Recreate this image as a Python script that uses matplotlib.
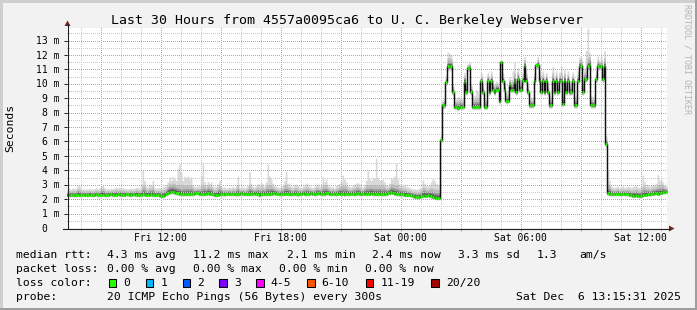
import numpy as np
import matplotlib
matplotlib.use('Agg')
import matplotlib.pyplot as plt
import matplotlib.transforms as mtransforms
from matplotlib.patches import Rectangle, Polygon
from matplotlib.lines import Line2D
from matplotlib.colors import to_rgba

# ---------------- data ----------------
title = "Last 30 Hours from 4557a0095ca6 to U. C. Berkeley Webserver"
step_minutes = 5
start_clock_hour = 7.31          # Fri 07:18 (graph start)
x_tick_clock = [12, 18, 24, 30, 36]
x_tick_labels = ["Fri 12:00", "Fri 18:00", "Sat 00:00", "Sat 06:00", "Sat 12:00"]
y_ticks = list(range(0, 14))
y_tick_labels = ["0"] + [f"{v} m" for v in range(1, 14)]

# median rtt per 5-minute step (ms), one row per hour
median = [
    2.30, 2.28, 2.31, 2.29, 2.27, 2.30, 2.32, 2.29, 2.28, 2.30, 2.31, 2.29,
    2.30, 2.32, 2.29, 2.28, 2.31, 2.33, 2.30, 2.29, 2.31, 2.32, 2.30, 2.28,
    2.31, 2.33, 2.35, 2.32, 2.30, 2.31, 2.34, 2.33, 2.31, 2.30, 2.32, 2.34,
    2.33, 2.31, 2.30, 2.33, 2.35, 2.32, 2.30, 2.28, 2.31, 2.34, 2.33, 2.31,
    2.30, 2.32, 2.33, 2.31, 2.29, 2.30, 2.32, 2.26, 2.22, 2.24, 2.28, 2.36,
    2.42, 2.50, 2.52, 2.53, 2.48, 2.44, 2.40, 2.38, 2.36, 2.34, 2.36, 2.35,
    2.37, 2.35, 2.38, 2.36, 2.40, 2.44, 2.42, 2.38, 2.36, 2.35, 2.37, 2.39,
    2.42, 2.38, 2.36, 2.34, 2.30, 2.28, 2.32, 2.35, 2.38, 2.36, 2.34, 2.37,
    2.39, 2.37, 2.35, 2.38, 2.36, 2.33, 2.35, 2.37, 2.40, 2.38, 2.36, 2.37,
    2.35, 2.37, 2.36, 2.38, 2.40, 2.37, 2.34, 2.30, 2.33, 2.36, 2.38, 2.35,
    2.37, 2.36, 2.38, 2.40, 2.42, 2.39, 2.37, 2.36, 2.38, 2.35, 2.37, 2.39,
    2.38, 2.36, 2.34, 2.36, 2.38, 2.35, 2.33, 2.36, 2.38, 2.40, 2.37, 2.35,
    2.37, 2.39, 2.41, 2.38, 2.36, 2.38, 2.40, 2.42, 2.39, 2.37, 2.38, 2.40,
    2.41, 2.38, 2.36, 2.39, 2.37, 2.35, 2.38, 2.40, 2.37, 2.36, 2.34, 2.37,
    2.38, 2.36, 2.39, 2.37, 2.35, 2.38, 2.40, 2.37, 2.36, 2.38, 2.40, 2.38,
    2.37, 2.39, 2.41, 2.38, 2.36, 2.37, 2.35, 2.38, 2.36, 2.34, 2.36, 2.38,
    2.40, 2.44, 2.48, 2.45, 2.40, 2.38, 2.36, 2.34, 2.36, 2.33, 2.31, 2.30,
    2.28, 2.30, 2.27, 2.22, 2.18, 2.15, 2.14, 2.17, 2.20, 2.24, 2.26, 2.25,
    2.27, 2.24, 2.20, 2.16, 2.12, 2.10, 2.08, 2.09, 6.1, 8.5, 8.5, 10.15,
    11.2, 11.2, 11.2, 9.45, 8.4, 8.4, 8.3, 8.4, 8.4, 8.4, 10.15, 9.4,
    11.1, 11.1, 9.4, 8.4, 8.4, 8.4, 8.4, 8.4, 10.2, 9.4, 8.4, 8.4,
    10.2, 9.4, 10.2, 9.6, 9.4, 9.6, 9.6, 8.8, 11.5, 10.2, 9.6, 8.8,
    8.8, 9.9, 9.6, 9.6, 10.15, 9.4, 10.3, 9.6, 9.6, 10.2, 11.2, 10.2,
    9.4, 8.5, 8.5, 8.5, 10.2, 11.3, 11.3, 10.2, 9.4, 10.2, 9.4, 10.2,
    9.4, 8.5, 8.5, 10.2, 9.4, 10.2, 9.4, 10.2, 10.2, 8.6, 10.2, 9.4,
    10.2, 9.4, 9.4, 10.2, 8.5, 8.5, 10.2, 11.2, 11.2, 9.4, 10.3, 10.3,
    11.2, 11.3, 8.5, 8.5, 8.5, 10.3, 11.2, 11.2, 11.2, 10.3, 11.2, 5.8,
    2.40, 2.38, 2.36, 2.35, 2.37, 2.36, 2.38, 2.35, 2.34, 2.36, 2.37, 2.35,
    2.33, 2.31, 2.28, 2.25, 2.24, 2.26, 2.23, 2.22, 2.25, 2.28, 2.30, 2.32,
    2.34, 2.33, 2.35, 2.38, 2.40, 2.42, 2.38, 2.41, 2.44, 2.47, 2.49, 2.50,
]

# highest ping per step (top of the smoke)
smoke_hi = [
    2.70, 2.75, 2.68, 2.80, 2.72, 2.78, 2.95, 2.90, 2.70, 2.74, 2.68, 2.72,
    2.70, 2.76, 2.72, 2.68, 2.74, 2.80, 2.70, 2.78, 2.92, 2.95, 2.80, 2.72,
    2.75, 2.70, 2.78, 2.72, 2.80, 2.85, 2.78, 2.82, 2.76, 2.80, 2.74, 2.72,
    2.70, 2.74, 2.78, 2.72, 2.76, 2.85, 2.80, 2.75, 2.90, 4.02, 3.30, 2.90,
    2.85, 3.05, 2.95, 3.30, 2.80, 2.75, 2.78, 2.80, 2.72, 2.85, 2.90, 3.00,
    3.20, 3.55, 3.30, 3.60, 3.40, 3.30, 4.15, 4.45, 3.90, 3.30, 3.60, 3.50,
    3.60, 3.40, 3.55, 3.00, 2.90, 2.85, 2.95, 2.90, 3.60, 4.50, 3.20, 3.00,
    3.25, 3.10, 3.20, 2.90, 2.85, 2.90, 3.10, 3.33, 2.90, 2.80, 2.85, 2.78,
    2.80, 2.85, 2.78, 2.90, 2.80, 3.00, 3.60, 2.85, 2.80, 2.90, 2.78, 2.85,
    3.00, 3.90, 3.10, 2.90, 2.85, 2.95, 3.10, 3.00, 3.15, 3.05, 2.90, 3.20,
    4.45, 3.60, 3.40, 3.10, 2.95, 2.90, 2.85, 2.80, 2.90, 2.95, 3.30, 3.90,
    3.10, 3.05, 2.90, 2.85, 3.00, 3.05, 2.95, 2.85, 2.80, 2.90, 3.00, 3.10,
    3.05, 2.90, 2.85, 2.80, 2.90, 3.05, 3.05, 2.90, 2.95, 3.56, 3.20, 3.40,
    3.00, 2.90, 2.85, 2.90, 2.80, 2.95, 3.00, 3.10, 3.20, 3.67, 3.40, 3.20,
    2.95, 2.90, 2.85, 3.00, 3.05, 3.10, 3.15, 3.05, 2.90, 2.85, 3.00, 3.30,
    4.00, 3.40, 3.30, 3.50, 3.45, 4.83, 3.50, 3.35, 3.30, 3.40, 3.20, 3.00,
    2.95, 3.10, 3.50, 3.40, 3.60, 4.49, 3.40, 3.05, 3.00, 2.95, 3.00, 2.90,
    2.85, 2.80, 2.75, 2.70, 2.72, 2.68, 2.70, 2.75, 2.80, 3.33, 3.10, 2.95,
    2.90, 3.00, 3.20, 3.45, 3.30, 3.10, 3.00, 2.90, 6.5, 8.9, 9.0, 10.6,
    12.2, 12.1, 12.0, 10.0, 8.8, 9.0, 9.1, 9.1, 9.0, 8.9, 10.8, 10.0,
    11.4, 11.5, 10.0, 9.0, 9.2, 9.6, 9.5, 9.3, 10.8, 10.0, 9.0, 8.9,
    10.8, 10.1, 10.9, 10.3, 10.0, 10.2, 10.1, 9.5, 11.65, 10.8, 10.2, 9.4,
    9.5, 10.5, 10.3, 10.9, 11.5, 10.4, 11.1, 10.3, 10.3, 10.8, 11.9, 11.0,
    10.0, 9.0, 9.1, 9.0, 10.8, 11.5, 11.9, 10.9, 10.0, 10.9, 10.1, 10.8,
    10.1, 9.2, 9.1, 11.2, 10.0, 10.9, 10.0, 10.8, 11.2, 9.3, 11.0, 10.1,
    10.9, 10.0, 10.1, 10.8, 9.1, 9.2, 10.9, 11.9, 11.8, 10.1, 11.1, 12.3,
    13.85, 12.2, 9.2, 9.1, 9.1, 11.0, 11.9, 11.6, 11.9, 11.0, 12.3, 6.4,
    4.00, 3.30, 2.90, 2.85, 2.80, 2.85, 2.90, 2.80, 2.85, 2.90, 2.80, 2.85,
    2.90, 2.85, 2.80, 2.85, 2.90, 2.95, 2.85, 2.80, 2.90, 3.67, 3.20, 3.00,
    3.00, 2.90, 2.95, 3.05, 3.00, 3.10, 3.70, 3.30, 3.40, 3.20, 3.00, 2.95,
]

# lowest ping per step (bottom of the smoke)
smoke_lo = [
    2.15, 2.14, 2.16, 2.15, 2.13, 2.15, 2.17, 2.15, 2.14, 2.16, 2.16, 2.15,
    2.16, 2.17, 2.15, 2.14, 2.16, 2.18, 2.16, 2.15, 2.16, 2.17, 2.16, 2.14,
    2.16, 2.18, 2.20, 2.17, 2.16, 2.17, 2.19, 2.18, 2.16, 2.16, 2.17, 2.19,
    2.18, 2.16, 2.16, 2.18, 2.20, 2.17, 2.16, 2.14, 2.16, 2.19, 2.18, 2.16,
    2.16, 2.17, 2.18, 2.16, 2.15, 2.16, 2.17, 2.12, 2.09, 2.10, 2.14, 2.20,
    2.26, 2.32, 2.34, 2.35, 2.30, 2.28, 2.25, 2.23, 2.21, 2.20, 2.21, 2.20,
    2.22, 2.20, 2.23, 2.21, 2.24, 2.28, 2.26, 2.23, 2.21, 2.20, 2.22, 2.24,
    2.26, 2.23, 2.21, 2.19, 2.16, 2.14, 2.17, 2.20, 2.23, 2.21, 2.19, 2.22,
    2.24, 2.22, 2.20, 2.23, 2.21, 2.18, 2.20, 2.22, 2.25, 2.23, 2.21, 2.22,
    2.20, 2.22, 2.21, 2.23, 2.25, 2.22, 2.19, 2.16, 2.18, 2.21, 2.23, 2.20,
    2.22, 2.21, 2.23, 2.25, 2.27, 2.24, 2.22, 2.21, 2.23, 2.20, 2.22, 2.24,
    2.23, 2.21, 2.19, 2.21, 2.23, 2.20, 2.18, 2.21, 2.23, 2.25, 2.22, 2.20,
    2.22, 2.24, 2.26, 2.23, 2.21, 2.23, 2.25, 2.27, 2.24, 2.22, 2.23, 2.25,
    2.26, 2.23, 2.21, 2.24, 2.22, 2.20, 2.23, 2.25, 2.22, 2.21, 2.19, 2.22,
    2.23, 2.21, 2.24, 2.22, 2.20, 2.23, 2.25, 2.22, 2.21, 2.23, 2.25, 2.23,
    2.22, 2.24, 2.26, 2.23, 2.21, 2.22, 2.20, 2.23, 2.21, 2.19, 2.21, 2.23,
    2.25, 2.28, 2.32, 2.30, 2.25, 2.23, 2.21, 2.19, 2.21, 2.18, 2.16, 2.15,
    2.13, 2.15, 2.12, 2.08, 2.04, 2.01, 2.00, 2.03, 2.06, 2.10, 2.12, 2.11,
    2.13, 2.10, 2.06, 2.02, 1.98, 1.96, 1.94, 1.95, 5.9, 8.2, 8.3, 9.9,
    10.9, 10.95, 10.9, 9.2, 8.2, 8.2, 8.1, 8.2, 8.2, 8.2, 9.9, 9.2,
    10.85, 10.9, 9.2, 8.2, 8.2, 8.2, 8.2, 8.2, 10.0, 9.2, 8.2, 8.2,
    10.0, 9.2, 10.0, 9.4, 9.2, 9.4, 9.4, 8.6, 11.2, 10.0, 9.4, 8.6,
    8.6, 9.7, 9.4, 9.4, 9.95, 9.2, 10.1, 9.4, 9.4, 10.0, 10.95, 10.0,
    9.2, 8.3, 8.3, 8.3, 10.0, 11.05, 11.05, 10.0, 9.2, 10.0, 9.2, 10.0,
    9.2, 8.3, 8.3, 10.0, 9.2, 10.0, 9.2, 10.0, 10.0, 8.4, 10.0, 9.2,
    10.0, 9.2, 9.2, 10.0, 8.3, 8.3, 10.0, 10.95, 10.95, 9.2, 10.1, 10.1,
    10.95, 11.05, 8.3, 8.3, 8.3, 10.1, 10.95, 10.95, 10.95, 10.1, 10.95, 5.6,
    2.24, 2.22, 2.21, 2.20, 2.22, 2.21, 2.23, 2.20, 2.19, 2.21, 2.22, 2.20,
    2.19, 2.17, 2.14, 2.11, 2.10, 2.12, 2.09, 2.08, 2.11, 2.14, 2.16, 2.18,
    2.20, 2.19, 2.21, 2.24, 2.26, 2.28, 2.24, 2.27, 2.30, 2.33, 2.35, 2.36,
]

stats_rtt = ["4.3 ms avg", "11.2 ms max", "2.1 ms min", "2.4 ms now", "3.3 ms sd", "1.3", "am/s"]
stats_loss = ["0.00 % avg", "0.00 % max", "0.00 % min", "0.00 % now"]
loss_labels = ["0", "1", "2", "3", "4-5", "6-10", "11-19", "20/20"]
loss_colors = ["#26ff00", "#00b8ff", "#0059ff", "#7e00ff", "#ff00ff", "#ff5500", "#ff0000", "#a10000"]
probe_text = "20 ICMP Echo Pings (56 Bytes) every 300s"
stamp_text = "Sat Dec  6 13:15:31 2025"

# ---------------- figure ----------------
W, H = 697, 310
fig = plt.figure(figsize=(W / 100, H / 100), dpi=100, facecolor="#f2f2f2")
MONO = "DejaVu Sans Mono"


def fx(x):
    return x / W


def fy(y):
    return 1 - y / H


# frame (3d border)
fig.add_artist(Rectangle((0, fy(2.5)), 1, 2.5 / H, transform=fig.transFigure, color="#cfcfcf", lw=0))
fig.add_artist(Rectangle((0, 0), 2.5 / W, 1, transform=fig.transFigure, color="#cfcfcf", lw=0))
fig.add_artist(Rectangle((0, 0), 1, 2.5 / H, transform=fig.transFigure, color="#9e9e9e", lw=0))
fig.add_artist(Rectangle((fx(W - 2.5), 0), 2.5 / W, 1, transform=fig.transFigure, color="#9e9e9e", lw=0))

PX_W, PX_H = 600, 200
ax = fig.add_axes([fx(67), fy(228), PX_W / W, PX_H / H])
ax.set_facecolor("white")
XMAX = 30.0
ymax = PX_H / 14.42
ax.set_xlim(0, XMAX)
ax.set_ylim(0, ymax)

med = np.array(median)
hi = np.array(smoke_hi)
lo = np.array(smoke_lo)
N = len(med)
t = np.arange(N + 1) * step_minutes / 60.0

# smoke layers
layers = [(1.0, 99.0, "#d9d9d9"), (0.65, 0.6, "#bebebe"), (0.42, 0.36, "#979797"), (0.26, 0.2, "#5c5c5c")]
for f, cap, col in layers:
    up = med + np.minimum((hi - med) * f, cap)
    dn = med - np.minimum((med - lo) * f, cap)
    ax.fill_between(t, np.append(dn, dn[-1]), np.append(up, up[-1]), step="post",
                    color=col, lw=0, zorder=1)

# grid positions
major_x = np.arange(9, 38, 3) - start_clock_hour
major_x = major_x[(major_x > 0) & (major_x < XMAX)]
minor_x = np.arange(8, 38, 1) - start_clock_hour
minor_x = minor_x[(minor_x > 0) & (minor_x < XMAX)]
major_y = np.arange(1, 14, 1.0)
minor_y = np.arange(0.5, 14, 1.0)

# pixel-exact dotted grid (drawn as an overlay image)
grid_img = np.zeros((PX_H, PX_W, 4))
gray = to_rgba("#c8c8c8")
red = to_rgba("#ee8a8a")
sx, sy = PX_W / XMAX, PX_H / ymax


def hrow(v):
    return int(round(PX_H - v * sy))


def vcol(xv):
    return int(round(xv * sx))


for v in minor_y:
    r = hrow(v)
    if 0 <= r < PX_H:
        grid_img[r, ::2] = gray
for xv in minor_x:
    c = vcol(xv)
    if 0 <= c < PX_W:
        grid_img[::2, c] = gray
for v in major_y:
    r = hrow(v)
    if 0 <= r < PX_H:
        grid_img[r, :] = 0
        grid_img[r, ::2] = red
for xv in major_x:
    c = vcol(xv)
    if 0 <= c < PX_W:
        grid_img[:, c] = 0
        grid_img[::2, c] = red
ax.imshow(grid_img, extent=[0, XMAX, 0, ymax], origin="upper", aspect="auto",
          interpolation="nearest", zorder=1.5)

# median line
ax.plot(t, np.append(med, med[-1]), drawstyle="steps-post", color="#111111", lw=1.05, zorder=3)
ax.hlines(med, t[:-1], t[1:], colors=loss_colors[0], lw=1.9, zorder=4)

ax.set_xlim(0, XMAX)
ax.set_ylim(0, ymax)
ax.set_xticks(major_x)
ax.set_xticks(minor_x, minor=True)
ax.set_yticks(y_ticks[1:])
ax.set_yticks(minor_y, minor=True)
ax.set_xticklabels([])
ax.set_yticklabels([])
ax.tick_params(axis="x", which="major", length=2.2, width=0.72, color="#ee8a8a", direction="out")
ax.tick_params(axis="x", which="minor", length=2.2, width=0.72, color="#c8c8c8", direction="out")
ax.tick_params(axis="y", which="major", length=2.2, width=0.72, color="#1f1f1f", direction="out")
ax.tick_params(axis="y", which="minor", length=0)
for s in ax.spines.values():
    s.set_visible(False)

# axes lines and arrows
fig.add_artist(Line2D([fx(67.5), fx(67.5)], [fy(228), fy(24)], transform=fig.transFigure, color="#1f1f1f", lw=0.8))
fig.add_artist(Line2D([fx(63), fx(670)], [fy(228.5), fy(228.5)], transform=fig.transFigure, color="#1f1f1f", lw=0.8))
fig.add_artist(Polygon([[fx(67.5), fy(20.5)], [fx(64.5), fy(26)], [fx(70.5), fy(26)]], closed=True,
                       transform=fig.transFigure, color="#802020", lw=0))
fig.add_artist(Polygon([[fx(674.5), fy(228.5)], [fx(669), fy(225.5)], [fx(669), fy(231.5)]], closed=True,
                       transform=fig.transFigure, color="#802020", lw=0))

# tick labels
tr_x = mtransforms.blended_transform_factory(ax.transData, fig.transFigure)
for c, lab in zip(x_tick_clock, x_tick_labels):
    ax.text(c - start_clock_hour, fy(241.3), lab, transform=tr_x, ha="center", va="baseline",
            family=MONO, fontsize=7, color="black", clip_on=False)
tr_y = mtransforms.offset_copy(mtransforms.blended_transform_factory(fig.transFigure, ax.transData),
                               fig=fig, x=0, y=-3.6, units="dots")
for v, lab in zip(y_ticks, y_tick_labels):
    xr = 59.5 if v > 0 else 47.6
    ax.text(fx(xr), v, lab, transform=tr_y, ha="right", va="baseline", family=MONO,
            fontsize=7, color="black", clip_on=False)

# title, axis label, tag
fig.text(fx(347), fy(24), title, ha="center", va="baseline", family=MONO, fontsize=9.5, color="black")
fig.text(fx(10.5), fy(127.5), "Seconds", ha="center", va="center", rotation=90, family=MONO,
         fontsize=8.2, color="black")
fig.text(fx(687.5), fy(4), "RRDTOOL / TOBI OETIKER", ha="center", va="top", rotation=270,
         family=MONO, fontsize=6, color="#b4b4b4")

# legend
def ltext(x, y, s, **kw):
    fig.text(fx(x), fy(y), s, ha=kw.pop("ha", "left"), va="baseline", family=MONO, fontsize=8.2,
             color="black", **kw)

b1, b2, b3, b4 = 257.6, 271.7, 285.9, 300.0
ltext(16, b1, "median rtt:")
for x, s in zip([107, 193, 287, 372, 458, 537, 579], stats_rtt):
    ltext(x, b1, s)
ltext(16, b2, "packet loss:")
for x, s in zip([107, 193, 279, 365], stats_loss):
    ltext(x, b2, s)
ltext(16, b3, "loss color:")
box_x = [108.5, 145.8, 182.5, 219, 256, 307, 365.5, 431]
lab_x = [123, 160.7, 197, 234, 270.7, 321.7, 380.7, 445.7]
for bx, lx, lab, col in zip(box_x, lab_x, loss_labels, loss_colors):
    fig.add_artist(Rectangle((fx(bx), fy(286.5)), 7.5 / W, 8 / H, transform=fig.transFigure,
                             facecolor=col, edgecolor="black", lw=0.75))
    ltext(lx, b3, lab)
ltext(16, b4, "probe:")
ltext(107, b4, probe_text)
ltext(681, b4, stamp_text, ha="right")

fig.savefig("out.png", dpi=100, facecolor=fig.get_facecolor())
